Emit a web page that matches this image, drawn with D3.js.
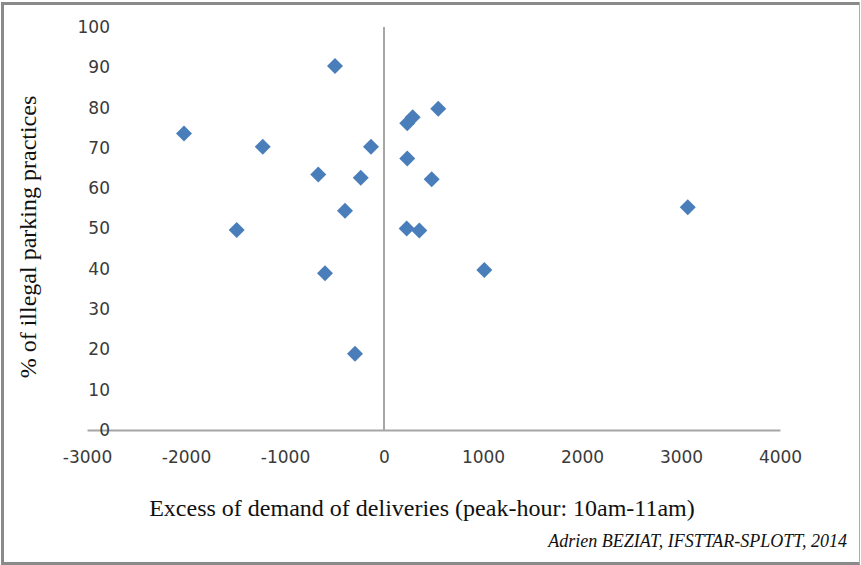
<!DOCTYPE html>
<html>
<head>
<meta charset="utf-8">
<script src="https://cdn.jsdelivr.net/npm/d3@7/dist/d3.min.js"></script>
<style>
  html, body { margin: 0; padding: 0; background: #fff; }
  svg { display: block; }
  .tick text { font-family: "DejaVu Sans", sans-serif; font-size: 17px; fill: #3a3a3a; }
  .axisTitle { font-family: "Liberation Serif", "Times New Roman", serif; font-size: 24px; fill: #111; }
  .credit { font-family: "Liberation Serif", "Times New Roman", serif; font-size: 18px; font-style: italic; fill: #111; }
</style>
</head>
<body>
<svg id="chart"></svg>
<script>
// excess of demand of deliveries (peak hour 10am-11am)
const excessDemand = [-2020, -1225, -1488, -664, -596, -495, -394, -235, -131, -293,
                      235, 290, 235, 229, 357, 482, 548, 1013, 3068];
// % of illegal parking practices
const illegalShare = [73.6, 70.3, 49.6, 63.4, 38.9, 90.3, 54.4, 62.6, 70.3, 18.9,
                      76.1, 77.6, 67.4, 50.0, 49.5, 62.2, 79.7, 39.7, 55.3];

const xTicks = [-3000, -2000, -1000, 0, 1000, 2000, 3000, 4000];
const yTicks = [0, 10, 20, 30, 40, 50, 60, 70, 80, 90, 100];

const xTitle = 'Excess of demand of deliveries (peak-hour: 10am-11am)';
const yTitle = '% of illegal parking practices';
const creditText = 'Adrien BEZIAT, IFSTTAR-SPLOTT, 2014';

const points = excessDemand.map((d, i) => ({x: d, y: illegalShare[i]}));

const W = 861, H = 565;
const svg = d3.select('#chart').attr('width', W).attr('height', H);

// scales
const scaleX = d3.scaleLinear().domain([-3000, 4000]).range([87, 780]);
const scaleY = d3.scaleLinear().domain([0, 100]).range([430, 27]);

// outer frame
svg.append('line').attr('x1', 2.5).attr('x2', 2.5).attr('y1', 2).attr('y2', 564)
	.attr('stroke', '#8a8a8a').attr('stroke-width', 3);
svg.append('line').attr('x1', 1).attr('x2', 860).attr('y1', 3.5).attr('y2', 3.5)
	.attr('stroke', '#8a8a8a').attr('stroke-width', 3);
svg.append('line').attr('x1', 1).attr('x2', 860).attr('y1', 563.5).attr('y2', 563.5)
	.attr('stroke', '#8a8a8a').attr('stroke-width', 3);
svg.append('line').attr('x1', 859.5).attr('x2', 859.5).attr('y1', 2).attr('y2', 564)
	.attr('stroke', '#aaaaaa').attr('stroke-width', 1);

// x axis (labels at the bottom, line along y = 0)
const xAxis = svg.append('g')
	.attr('class', 'axis axis--x')
	.attr('transform', 'translate(0,' + scaleY(0) + ')')
	.call(d3.axisBottom(scaleX).tickValues(xTicks).tickSize(0).tickPadding(21).tickFormat(d => d));
xAxis.select('.domain').attr('stroke', '#a6a6a6').attr('stroke-width', 2);

// y axis labels on the left, line crossing at x = 0
const yAxis = svg.append('g')
	.attr('class', 'axis axis--y')
	.attr('transform', 'translate(110,0)')
	.call(d3.axisLeft(scaleY).tickValues(yTicks).tickSize(0).tickPadding(0));
yAxis.select('.domain').remove();

svg.append('line')
	.attr('x1', scaleX(0)).attr('x2', scaleX(0))
	.attr('y1', scaleY(100)).attr('y2', scaleY(0))
	.attr('stroke', '#a6a6a6').attr('stroke-width', 2);

// points
const diamond = d3.symbol(d3.symbolSquare, 128);
svg.append('g').selectAll('path')
	.data(points)
	.join('path')
	.attr('d', diamond)
	.attr('transform', d => 'translate(' + scaleX(d.x) + ',' + scaleY(d.y) + ') rotate(45)')
	.attr('fill', '#4a7ebb');

// titles
svg.append('text')
	.attr('class', 'axisTitle')
	.attr('x', 422).attr('y', 516)
	.attr('text-anchor', 'middle')
	.text(xTitle);

svg.append('text')
	.attr('class', 'axisTitle')
	.attr('transform', 'translate(36,237) rotate(-90)')
	.attr('text-anchor', 'middle')
	.text(yTitle);

svg.append('text')
	.attr('class', 'credit')
	.attr('x', 847).attr('y', 547)
	.attr('text-anchor', 'end')
	.text(creditText);
</script>
</body>
</html>
